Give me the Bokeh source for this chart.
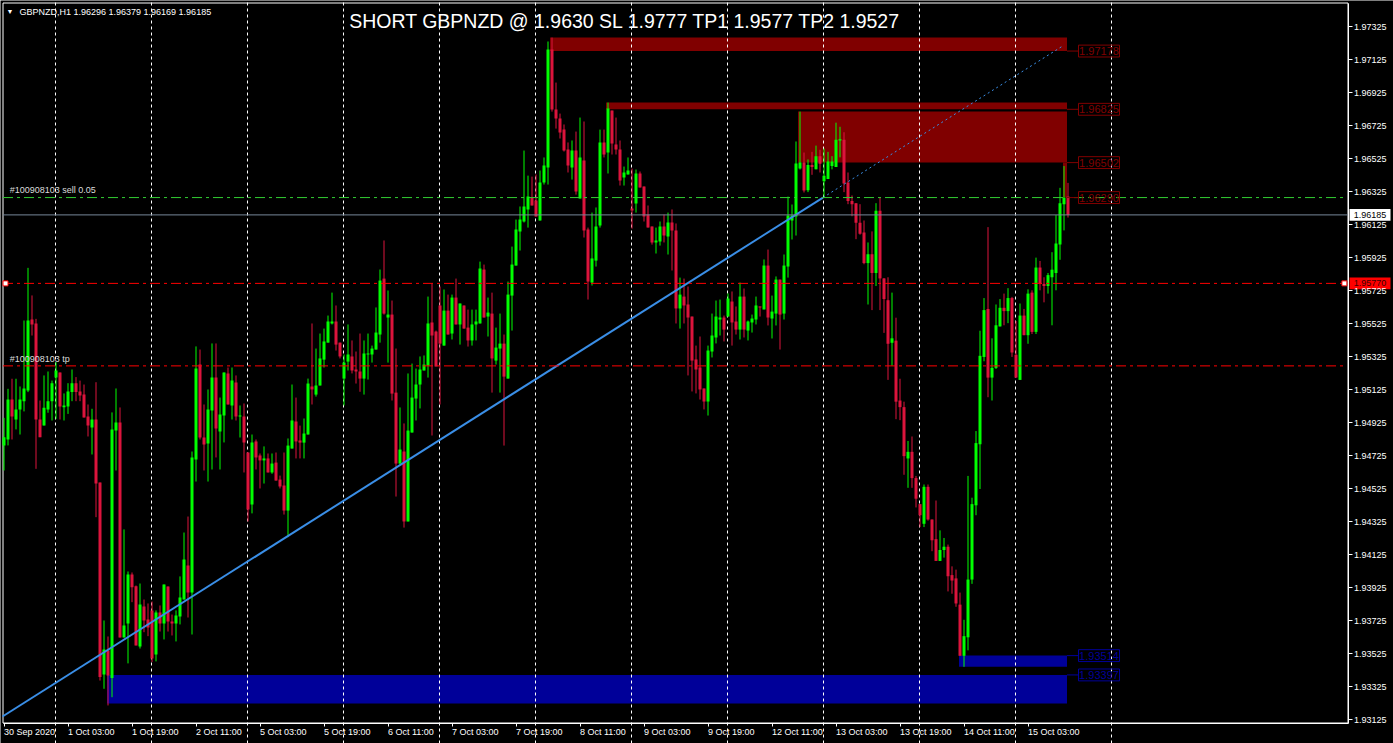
from bokeh.plotting import figure
from bokeh.models import Range1d, FixedTicker, PrintfTickFormatter, Label, LabelSet, ColumnDataSource
from bokeh.core.properties import value
from bokeh.embed import file_html
from bokeh.resources import INLINE

# ---------------- data ----------------
symbol_text = "GBPNZD,H1  1.96296 1.96379 1.96169 1.96185"
title_text = "SHORT GBPNZD @ 1.9630 SL 1.9777 TP1 1.9577 TP2 1.9527"

opens = [
    1.94788, 1.94824, 1.95066, 1.94945, 1.95006, 1.95056, 1.95121, 1.95551, 1.95527, 1.94945,
    1.94909, 1.95006, 1.95056, 1.95200, 1.95230, 1.95020, 1.95024, 1.95111, 1.95165, 1.95115,
    1.95097, 1.94963, 1.94897, 1.94945, 1.94563, 1.93400, 1.93545, 1.93378, 1.94878, 1.94927,
    1.93624, 1.93709, 1.94006, 1.93935, 1.93570, 1.93812, 1.93733, 1.93788, 1.93521, 1.93776,
    1.93709, 1.93933, 1.93721, 1.93709, 1.93751, 1.93854, 1.94060, 1.93897, 1.94703, 1.95278,
    1.94836, 1.94800, 1.95000, 1.95200, 1.94872, 1.94969, 1.95224, 1.95030, 1.95169, 1.94963,
    1.94963, 1.94745, 1.94430, 1.94812, 1.94727, 1.94697, 1.94709, 1.94624, 1.94684, 1.94581,
    1.94545, 1.94393, 1.94769, 1.94933, 1.94818, 1.94805, 1.94854, 1.95145, 1.95096, 1.95151,
    1.95308, 1.95411, 1.95527, 1.95539, 1.95411, 1.95193, 1.95296, 1.95327, 1.95248, 1.95236,
    1.95193, 1.95339, 1.95339, 1.95369, 1.95460, 1.95799, 1.95563, 1.95581, 1.95108, 1.94678,
    1.94751, 1.94327, 1.94866, 1.95072, 1.95157, 1.95242, 1.95272, 1.95533, 1.95478, 1.95636,
    1.95393, 1.95605, 1.95466, 1.95684, 1.95521, 1.95636, 1.95502, 1.95424, 1.95521, 1.95527,
    1.95854, 1.95569, 1.95587, 1.95302, 1.95375, 1.95405, 1.95193, 1.95696, 1.95878, 1.96084,
    1.96145, 1.96217, 1.96290, 1.96272, 1.96151, 1.96381, 1.96472, 1.97187, 1.96824, 1.96769,
    1.96702, 1.96581, 1.96472, 1.96575, 1.96284, 1.96514, 1.96096, 1.95775, 1.95908, 1.96121,
    1.96624, 1.96563, 1.96817, 1.96611, 1.96581, 1.96411, 1.96430, 1.96224, 1.96254, 1.96436,
    1.96357, 1.96187, 1.96115, 1.96018, 1.96024, 1.96115, 1.96054, 1.96139, 1.96090, 1.95618,
    1.95690, 1.95642, 1.95569, 1.95309, 1.95260, 1.95133, 1.95054, 1.95357, 1.95442, 1.95551,
    1.95563, 1.95569, 1.95660, 1.95539, 1.95490, 1.95690, 1.95484, 1.95533, 1.95551, 1.95630,
    1.95612, 1.95878, 1.95557, 1.95587, 1.95793, 1.95587, 1.95872, 1.96151, 1.96175, 1.96466,
    1.96502, 1.96334, 1.96488, 1.96461, 1.96541, 1.96389, 1.96402, 1.96481, 1.96475, 1.96636,
    1.96640, 1.96382, 1.96270, 1.96256, 1.96137, 1.96078, 1.95893, 1.95946, 1.95833, 1.96210,
    1.95800, 1.95668, 1.95410, 1.95423, 1.95060, 1.95020, 1.94709, 1.94749, 1.94590, 1.94432,
    1.94313, 1.94537, 1.94339, 1.94220, 1.94088, 1.94154, 1.94174, 1.94002, 1.93982, 1.93823,
    1.93513, 1.93625, 1.93975, 1.94425, 1.94795, 1.95324, 1.95615, 1.95199, 1.95258, 1.95509,
    1.95622, 1.95602, 1.95681, 1.95337, 1.95185, 1.95575, 1.95456, 1.95714, 1.95476, 1.95866,
    1.95767, 1.95754, 1.95807, 1.95833, 1.96005, 1.96250, 1.96296,
]
highs = [
    1.94955, 1.95131, 1.95192, 1.95192, 1.95145, 1.95545, 1.95864, 1.95697, 1.95555, 1.95060,
    1.95212, 1.95236, 1.95181, 1.95293, 1.95230, 1.95103, 1.95165, 1.95248, 1.95202, 1.95181,
    1.95157, 1.95036, 1.95010, 1.95171, 1.94563, 1.93727, 1.93630, 1.94988, 1.95133, 1.95018,
    1.94279, 1.94024, 1.94018, 1.93939, 1.93951, 1.93854, 1.93830, 1.93842, 1.93788, 1.93818,
    1.93945, 1.93933, 1.93763, 1.93788, 1.93994, 1.94260, 1.94357, 1.94751, 1.95388, 1.95369,
    1.95036, 1.95127, 1.95406, 1.95406, 1.95078, 1.95230, 1.95260, 1.95260, 1.95212, 1.95030,
    1.95042, 1.94745, 1.94854, 1.94824, 1.94739, 1.94782, 1.94739, 1.94739, 1.94745, 1.94605,
    1.94745, 1.94830, 1.95157, 1.95078, 1.94908, 1.94951, 1.95193, 1.95527, 1.95375, 1.95466,
    1.95496, 1.95575, 1.95714, 1.95636, 1.95411, 1.95339, 1.95521, 1.95424, 1.95357, 1.95466,
    1.95424, 1.95466, 1.95393, 1.95624, 1.95854, 1.96030, 1.95727, 1.95666, 1.95375, 1.95018,
    1.94921, 1.95224, 1.95284, 1.95254, 1.95327, 1.95333, 1.95690, 1.95769, 1.95484, 1.95751,
    1.95733, 1.95702, 1.95702, 1.95799, 1.95648, 1.95636, 1.95611, 1.95611, 1.95611, 1.95902,
    1.95884, 1.95684, 1.95714, 1.95502, 1.95587, 1.95460, 1.95781, 1.95993, 1.96157, 1.96236,
    1.96575, 1.96423, 1.96417, 1.96430, 1.96454, 1.96533, 1.97236, 1.97260, 1.96987, 1.96799,
    1.96733, 1.96624, 1.96636, 1.96690, 1.96775, 1.96751, 1.96108, 1.96199, 1.96230, 1.96702,
    1.96702, 1.96866, 1.96817, 1.96775, 1.96636, 1.96478, 1.96533, 1.96466, 1.96460, 1.96448,
    1.96357, 1.96242, 1.96115, 1.96108, 1.96145, 1.96187, 1.96199, 1.96218, 1.96133, 1.95805,
    1.95799, 1.95751, 1.95569, 1.95393, 1.95448, 1.95133, 1.95393, 1.95587, 1.95666, 1.95672,
    1.95575, 1.95709, 1.95721, 1.95630, 1.95775, 1.95739, 1.95545, 1.95581, 1.95690, 1.95630,
    1.95915, 1.95975, 1.95696, 1.95812, 1.95793, 1.95945, 1.96296, 1.96248, 1.96630, 1.96811,
    1.96563, 1.96521, 1.96567, 1.96605, 1.96580, 1.96587, 1.96567, 1.96541, 1.96744, 1.96719,
    1.96686, 1.96442, 1.96303, 1.96256, 1.96250, 1.96151, 1.96018, 1.96085, 1.96256, 1.96290,
    1.95802, 1.95807, 1.95714, 1.95562, 1.95192, 1.95053, 1.94815, 1.94842, 1.94603, 1.94432,
    1.94551, 1.94551, 1.94339, 1.94454, 1.94273, 1.94227, 1.94187, 1.94055, 1.94035, 1.93896,
    1.93731, 1.94603, 1.94471, 1.94875, 1.95483, 1.95681, 1.96111, 1.95437, 1.95642, 1.95675,
    1.95708, 1.95741, 1.95688, 1.95542, 1.95648, 1.95615, 1.95734, 1.95728, 1.95926, 1.95906,
    1.95807, 1.95833, 1.95959, 1.96184, 1.96349, 1.96481, 1.96379,
]
lows = [
    1.94636, 1.94788, 1.94824, 1.94885, 1.94854, 1.94994, 1.95111, 1.95454, 1.94646, 1.94838,
    1.94909, 1.94986, 1.94939, 1.94949, 1.94945, 1.94939, 1.94979, 1.95056, 1.95056, 1.95056,
    1.94957, 1.94842, 1.94733, 1.94353, 1.93363, 1.93313, 1.93212, 1.93262, 1.94636, 1.93624,
    1.93624, 1.93467, 1.93838, 1.93576, 1.93557, 1.93656, 1.93632, 1.93475, 1.93479, 1.93660,
    1.93612, 1.93660, 1.93636, 1.93600, 1.93703, 1.93854, 1.93745, 1.93642, 1.94569, 1.94824,
    1.94636, 1.94569, 1.94642, 1.94715, 1.94642, 1.94806, 1.95036, 1.94945, 1.94939, 1.94836,
    1.94624, 1.94327, 1.94376, 1.94642, 1.94527, 1.94557, 1.94624, 1.94616, 1.94575, 1.94527,
    1.94369, 1.94232, 1.94769, 1.94709, 1.94709, 1.94709, 1.94854, 1.95036, 1.95084, 1.95151,
    1.95260, 1.95411, 1.95521, 1.95363, 1.95315, 1.95030, 1.95242, 1.95224, 1.95163, 1.95113,
    1.95096, 1.95187, 1.95290, 1.95369, 1.95411, 1.95581, 1.95290, 1.95060, 1.94478, 1.94672,
    1.94290, 1.94327, 1.94866, 1.94939, 1.95012, 1.95242, 1.95199, 1.94848, 1.95266, 1.95036,
    1.95393, 1.95460, 1.95430, 1.95521, 1.95399, 1.95496, 1.95387, 1.95393, 1.95424, 1.95527,
    1.95563, 1.95448, 1.95108, 1.95278, 1.95108, 1.94787, 1.95193, 1.95484, 1.95878, 1.95969,
    1.96139, 1.96108, 1.96242, 1.96175, 1.96151, 1.96369, 1.96369, 1.96811, 1.96708, 1.96648,
    1.96569, 1.96442, 1.96399, 1.96308, 1.96284, 1.96048, 1.95672, 1.95757, 1.95872, 1.96108,
    1.96533, 1.96436, 1.96551, 1.96551, 1.96363, 1.96363, 1.96430, 1.96102, 1.96199, 1.96351,
    1.96145, 1.96108, 1.96005, 1.95951, 1.95999, 1.96018, 1.95945, 1.95848, 1.95527, 1.95496,
    1.95527, 1.95212, 1.95115, 1.95103, 1.95066, 1.95006, 1.94969, 1.95321, 1.95406, 1.95454,
    1.95418, 1.95569, 1.95393, 1.95460, 1.95430, 1.95442, 1.95424, 1.95472, 1.95521, 1.95569,
    1.95612, 1.95515, 1.95436, 1.95515, 1.95369, 1.95551, 1.95805, 1.96036, 1.96060, 1.96460,
    1.96321, 1.96323, 1.96428, 1.96461, 1.96442, 1.96296, 1.96402, 1.96461, 1.96475, 1.96534,
    1.96323, 1.96250, 1.96177, 1.96038, 1.96065, 1.95886, 1.95642, 1.95608, 1.95754, 1.95608,
    1.95470, 1.95185, 1.95271, 1.94947, 1.94941, 1.94610, 1.94531, 1.94531, 1.94412, 1.94293,
    1.94293, 1.94332, 1.94147, 1.94088, 1.94088, 1.94108, 1.93903, 1.93889, 1.93810, 1.93513,
    1.93446, 1.93546, 1.93949, 1.94365, 1.94524, 1.95298, 1.95080, 1.95060, 1.95251, 1.95509,
    1.95516, 1.95529, 1.95324, 1.95199, 1.95185, 1.95456, 1.95404, 1.95463, 1.95463, 1.95728,
    1.95655, 1.95708, 1.95516, 1.95728, 1.95913, 1.96091, 1.96169,
]
closes = [
    1.94838, 1.95066, 1.94963, 1.95006, 1.95066, 1.95133, 1.95545, 1.95521, 1.94945, 1.94838,
    1.95016, 1.95056, 1.95165, 1.95242, 1.95024, 1.95030, 1.95115, 1.95165, 1.95111, 1.95091,
    1.94957, 1.94909, 1.94945, 1.94557, 1.93384, 1.93551, 1.93394, 1.94885, 1.94927, 1.93624,
    1.93697, 1.94006, 1.93929, 1.93576, 1.93824, 1.93727, 1.93685, 1.93497, 1.93776, 1.93709,
    1.93945, 1.93721, 1.93709, 1.93757, 1.93866, 1.94097, 1.93897, 1.94715, 1.95254, 1.94836,
    1.94794, 1.95006, 1.95200, 1.94891, 1.94975, 1.95230, 1.95036, 1.95181, 1.94963, 1.94969,
    1.94806, 1.94400, 1.94806, 1.94715, 1.94697, 1.94709, 1.94624, 1.94678, 1.94575, 1.94539,
    1.94393, 1.94787, 1.94939, 1.94812, 1.94805, 1.94860, 1.95163, 1.95127, 1.95151, 1.95315,
    1.95418, 1.95539, 1.95539, 1.95399, 1.95327, 1.95290, 1.95339, 1.95242, 1.95236, 1.95193,
    1.95345, 1.95345, 1.95375, 1.95472, 1.95787, 1.95587, 1.95581, 1.95102, 1.94678, 1.94763,
    1.94327, 1.94878, 1.95078, 1.95157, 1.95248, 1.95278, 1.95527, 1.95454, 1.95266, 1.95405,
    1.95605, 1.95460, 1.95684, 1.95521, 1.95648, 1.95496, 1.95424, 1.95521, 1.95539, 1.95860,
    1.95563, 1.95593, 1.95315, 1.95381, 1.95405, 1.95205, 1.95702, 1.95884, 1.96096, 1.96157,
    1.96236, 1.96296, 1.96242, 1.96175, 1.96381, 1.96484, 1.97187, 1.96824, 1.96769, 1.96684,
    1.96575, 1.96484, 1.96575, 1.96327, 1.96533, 1.96090, 1.95781, 1.95921, 1.96115, 1.96624,
    1.96551, 1.96830, 1.96618, 1.96581, 1.96393, 1.96442, 1.96454, 1.96211, 1.96436, 1.96351,
    1.96175, 1.96108, 1.96018, 1.96030, 1.96115, 1.96060, 1.96139, 1.96090, 1.95618, 1.95702,
    1.95636, 1.95563, 1.95302, 1.95248, 1.95127, 1.95054, 1.95363, 1.95454, 1.95569, 1.95563,
    1.95490, 1.95678, 1.95533, 1.95490, 1.95690, 1.95490, 1.95539, 1.95557, 1.95636, 1.95624,
    1.95878, 1.95563, 1.95599, 1.95793, 1.95581, 1.95878, 1.96181, 1.96181, 1.96496, 1.96502,
    1.96333, 1.96488, 1.96475, 1.96541, 1.96495, 1.96422, 1.96508, 1.96508, 1.96640, 1.96644,
    1.96375, 1.96270, 1.96250, 1.96137, 1.96071, 1.95893, 1.95946, 1.95833, 1.96210, 1.95800,
    1.95675, 1.95404, 1.95437, 1.95053, 1.95020, 1.94723, 1.94749, 1.94590, 1.94465, 1.94365,
    1.94537, 1.94339, 1.94213, 1.94088, 1.94154, 1.94174, 1.93995, 1.93969, 1.93830, 1.93513,
    1.93632, 1.93975, 1.94432, 1.94802, 1.95331, 1.95608, 1.95199, 1.95258, 1.95516, 1.95622,
    1.95602, 1.95681, 1.95351, 1.95199, 1.95575, 1.95456, 1.95708, 1.95476, 1.95866, 1.95767,
    1.95754, 1.95820, 1.95853, 1.96012, 1.96256, 1.96289, 1.96185,
]

x_tick_bars = [0, 16, 32, 48, 64, 80, 96, 112, 128, 144, 160, 176, 192, 208, 224, 240, 256]
x_tick_labels = ["30 Sep 2020", "1 Oct 03:00", "1 Oct 19:00", "2 Oct 11:00", "5 Oct 03:00",
                 "5 Oct 19:00", "6 Oct 11:00", "7 Oct 03:00", "7 Oct 19:00", "8 Oct 11:00",
                 "9 Oct 03:00", "9 Oct 19:00", "12 Oct 11:00", "13 Oct 03:00", "13 Oct 19:00",
                 "14 Oct 11:00", "15 Oct 03:00"]
y_ticks = [1.93125, 1.93325, 1.93525, 1.93725, 1.93925, 1.94125, 1.94325, 1.94525, 1.94725,
           1.94925, 1.95125, 1.95325, 1.95525, 1.95725, 1.95925, 1.96125, 1.96325, 1.96525,
           1.96725, 1.96925, 1.97125, 1.97325]

# supply / demand rectangles (bar index from, bar index to, price top, price bottom)
zone_from = [136.5, 150.5, 198.5, 264.75, 238.75, 25.75]
zone_to = [265.75, 265.75, 265.75, 265.75, 265.75, 265.75]
zone_top = [1.97260, 1.96866, 1.96812, 1.96502, 1.93514, 1.93397]
zone_bottom = [1.97178, 1.96825, 1.96502, 1.96290, 1.93446, 1.93224]
zone_level = [1.97178, 1.96825, 1.96502, 1.96290, 1.93514, 1.93397]
zone_kind = ["supply", "supply", "supply", "supply", "demand", "demand"]

# trend line anchors (bar index, price)
trend_x = [-0.375, 204.75, 264.75]
trend_y = [1.93145, 1.96290, 1.97210]

sell_price = 1.96290
tp1_price = 1.95770
tp2_price = 1.95270
bid_price = 1.96185
order_text = "#100908103 sell 0.05"
tp_text = "#100908103 tp"

# ---------------- layout / styles ----------------
BULL = "#00FF00"
BEAR = "#DC143C"
SUPPLY = "#800000"
DEMAND = "#000099"
FONT = "Liberation Sans"
# chart frame edges (bar index / price) inside the full-canvas plot area
FL, FR = -0.25, 336.0
FT, FB = 1.974692, 1.931056
BOX_L, BOX_R = 336.375, 346.625       # price boxes on the scale
ZL_L, ZL_R = 268.625, 278.875         # zone label boxes

n = len(closes)
xs = list(range(n))
cols = [BULL if c >= o else BEAR for o, c in zip(opens, closes)]
src = ColumnDataSource(dict(
    x=xs, h=highs, l=lows, color=cols,
    left=[i - 0.375 for i in xs], right=[i + 0.375 for i in xs],
    top=[max(o, c) for o, c in zip(opens, closes)],
    bottom=[min(o, c) for o, c in zip(opens, closes)],
))

p = figure(width=1393, height=743,
           x_range=Range1d(-0.875, 347.375), y_range=Range1d(1.929814, 1.974844),
           output_backend="svg", toolbar_location=None,
           x_axis_location="below", y_axis_location="right",
           min_border_left=0, min_border_top=0, min_border_right=0, min_border_bottom=0,
           background_fill_color="black", border_fill_color="black",
           outline_line_color=None)

# grid: only vertical dashed lines inside the chart frame
p.ygrid.visible = False
p.xgrid[0].ticker = FixedTicker(ticks=[12.75, 36.75, 60.75, 84.75, 108.75, 132.75, 156.75,
                                       180.75, 204.75, 228.75, 252.75, 276.75])
p.xgrid.bounds = (FB, FT)
p.xgrid.grid_line_color = "white"
p.xgrid.grid_line_dash = "3 3"
p.xgrid.grid_line_width = 1
p.xgrid.level = "underlay"

# price scale on the right, placed at the frame edge
ya = p.yaxis[0]
ya.fixed_location = FR
ya.bounds = (FB, FT)
ya.ticker = FixedTicker(ticks=y_ticks)
ya.formatter = PrintfTickFormatter(format="%.5f")
ya.axis_line_color = "white"
ya.major_tick_line_color = "white"
ya.minor_tick_line_color = None
ya.major_tick_out = 4
ya.major_tick_in = 0
ya.major_label_standoff = 2
ya.major_label_text_color = "white"
ya.major_label_text_font = FONT
ya.major_label_text_font_size = "9px"

# time scale at the bottom edge (ticks from the axis, left-aligned labels)
xa = p.xaxis[0]
xa.fixed_location = FB
xa.bounds = (FL, FR)
xa.ticker = FixedTicker(ticks=x_tick_bars)
xa.axis_line_color = "white"
xa.major_tick_line_color = "white"
xa.minor_tick_line_color = None
xa.major_tick_out = 3
xa.major_tick_in = 0
xa.major_label_text_font_size = "0px"
xa.major_label_text_color = None
tsrc = ColumnDataSource(dict(x=x_tick_bars, y=[1.930541] * len(x_tick_bars), text=x_tick_labels))
p.add_layout(LabelSet(x="x", y="y", text="text", source=tsrc, text_color="white",
                      text_font=value(FONT), text_font_size="9px", text_align="left",
                      text_baseline="middle"))

# left and top frame lines
p.quad(left=[FL], right=[FR], top=[FT], bottom=[FB], fill_color=None, line_color="white",
       line_width=1)

# zones
zone_cols = [SUPPLY if k == "supply" else DEMAND for k in zone_kind]
zsrc = ColumnDataSource(dict(left=zone_from, right=zone_to, top=zone_top, bottom=zone_bottom,
                             color=zone_cols))
zr = p.quad(left="left", right="right", top="top", bottom="bottom",
            fill_color="color", line_color=None, source=zsrc)
zr.level = "image"

# candles
p.segment(x0="x", y0="l", x1="x", y1="h", line_color="color", line_width=1, source=src)
p.quad(left="left", right="right", top="top", bottom="bottom",
       fill_color="color", line_color=None, source=src)
doji = [i for i in xs if abs(opens[i] - closes[i]) < 0.00004]
p.segment(x0=[i - 0.375 for i in doji], y0=[closes[i] for i in doji],
          x1=[i + 0.375 for i in doji], y1=[closes[i] for i in doji],
          line_color=[cols[i] for i in doji], line_width=1)

# trend line (solid part, dotted ray)
p.line(trend_x[:2], trend_y[:2], line_color="#3a8ee6", line_width=2)
p.line(trend_x[1:], trend_y[1:], line_color="#3a8ee6", line_width=1, line_dash="2 3")

# horizontal levels
p.segment(x0=[FL], y0=[bid_price], x1=[FR], y1=[bid_price], line_color="#778899", line_width=1)
p.segment(x0=[FL], y0=[sell_price], x1=[FR - 1.25], y1=[sell_price], line_color="#32CD32",
          line_width=1, line_dash="10 4 3 4")
p.segment(x0=[FL, FL], y0=[tp1_price, tp2_price], x1=[FR - 1.25, FR - 1.25],
          y1=[tp1_price, tp2_price], line_color="#FF0000", line_width=1, line_dash="10 4 3 4")
p.scatter([0.375, 335.1], [tp1_price, tp1_price], marker="square", size=5,
          fill_color="white", line_color="#FF0000")

# zone price labels with connectors and boxes
p.segment(x0=zone_to, y0=zone_level, x1=[ZL_L] * len(zone_level), y1=zone_level,
          line_color=zone_cols, line_width=1)
p.quad(left=[ZL_L] * len(zone_level), right=[ZL_R] * len(zone_level),
       top=[v + 0.00036 for v in zone_level], bottom=[v - 0.00036 for v in zone_level],
       fill_color=None, line_color=zone_cols, line_width=1)
for lvl, col in zip(zone_level, zone_cols):
    p.add_layout(Label(x=(ZL_L + ZL_R) / 2, y=lvl, text=f"{lvl:.5f}", text_color=col,
                       text_font=FONT, text_font_size="11px", text_align="center",
                       text_baseline="middle"))

# price boxes on the right scale
p.quad(left=[BOX_L, BOX_L], right=[BOX_R, BOX_R],
       top=[bid_price + 0.00036, tp1_price + 0.00036],
       bottom=[bid_price - 0.00036, tp1_price - 0.00036],
       fill_color=["white", "#FF0000"], line_color=None)
p.add_layout(Label(x=(BOX_L + BOX_R) / 2, y=bid_price, text=f"{bid_price:.5f}",
                   text_color="black", text_font=FONT, text_font_size="9px",
                   text_align="center", text_baseline="middle"))
p.add_layout(Label(x=(BOX_L + BOX_R) / 2, y=tp1_price, text=f"{tp1_price:.5f}",
                   text_color="#400000", text_font=FONT, text_font_size="9px",
                   text_align="center", text_baseline="middle"))

# texts
p.add_layout(Label(x=0.625, y=1.974177, text="\u25bc", text_color="white", text_font=FONT,
                   text_font_size="7px", text_align="left", text_baseline="middle"))
p.add_layout(Label(x=3.875, y=1.974177, text=symbol_text, text_color="white", text_font=FONT,
                   text_font_size="9px", text_align="left", text_baseline="middle"))
p.add_layout(Label(x=155.25, y=1.97363, text=title_text, text_color="white", text_font=FONT,
                   text_font_size="19.5px", text_align="center", text_baseline="middle"))
p.add_layout(Label(x=1.45, y=1.963359, text=order_text, text_color="#DCDCDC", text_font=FONT,
                   text_font_size="9px", text_align="left", text_baseline="middle"))
p.add_layout(Label(x=1.45, y=1.953087, text=tp_text, text_color="#DCDCDC", text_font=FONT,
                   text_font_size="9px", text_align="left", text_baseline="middle"))

open("out.html", "w").write(file_html(p, INLINE))
